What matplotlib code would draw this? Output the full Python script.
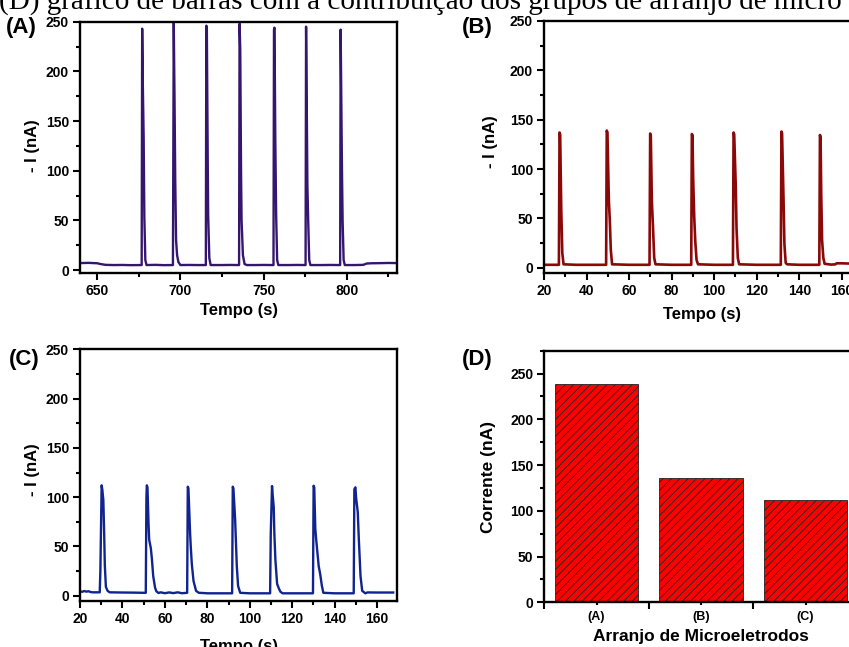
import matplotlib
matplotlib.use("Agg")
import matplotlib.pyplot as plt
from matplotlib.ticker import MultipleLocator

plt.rcParams['font.family'] = ['Liberation Sans', 'DejaVu Sans']
plt.rcParams['font.weight'] = 'bold'
plt.rcParams['hatch.linewidth'] = 0.6

W, H = 849, 647

# ---------------- data ----------------
A_t = [640, 645, 650, 652, 655, 660, 665, 670, 676.7,
       677.0, 677.4, 677.9, 678.3, 678.9, 679.6,
       685, 690, 695.5,
       695.6, 696.0, 696.5, 696.9, 697.4, 698.0, 698.8, 700.0,
       705, 710, 715.3,
       715.6, 715.9, 716.4, 716.7, 717.4, 718.2,
       725, 730, 735.3,
       735.6, 736.0, 736.5, 736.8, 737.6, 738.6, 740,
       745, 750, 756.0,
       756.3, 756.6, 757.1, 757.6, 758.2, 758.9,
       765, 770, 775.3,
       775.6, 776.0, 776.4, 776.9, 777.5, 778.2,
       785, 790, 796.1,
       796.4, 796.8, 797.2, 797.6, 798.2, 798.9,
       805, 810, 812, 815, 820, 825, 830]
A_i = [7.0, 7.2, 6.8, 6.0, 5.2, 5.0, 5.1, 4.9, 5.0,
       243, 186, 133, 54, 10, 5,
       5.2, 4.9, 5.0,
       47, 249, 167, 90, 30, 15, 8, 5,
       5.1, 5.0, 5.0,
       246, 244, 120, 55, 12, 5,
       5.0, 5.1, 5.0,
       248, 222, 95, 50, 15, 6, 5,
       5.0, 5.1, 5.0,
       242, 244, 130, 55, 10, 5,
       5.0, 5.1, 5.0,
       245, 168, 85, 48, 10, 5,
       5.0, 5.1, 5.0,
       242, 170, 100, 48, 10, 5,
       5.0, 5.2, 6.5, 6.8, 6.9, 7.1, 7.0]

B_t = [20, 25, 27.0, 27.3, 27.6, 28.1, 28.6, 29.2,
       35, 40, 45, 49.2, 49.5, 49.8, 50.5, 50.9, 51.4, 52.0,
       60, 69.6, 69.9, 70.2, 70.7, 71.2, 71.8, 72.4,
       80, 89.2, 89.5, 89.8, 90.1, 90.6, 91.1, 91.7, 92.4,
       100, 108.8, 109.1, 109.4, 110.1, 110.5, 111.1, 111.7,
       120, 131.3, 131.6, 131.9, 132.6, 133.0, 133.6, 134.2,
       140, 149.4, 149.7, 150.0, 150.3, 150.7, 151.3, 151.9,
       155, 157, 157.5, 160, 163, 166, 169]
B_i = [3.0, 3.0, 3.0, 137, 135, 60, 15, 3.5,
       3, 3, 3, 3, 139, 137, 67, 50, 18, 3.5,
       3, 3, 136, 134, 67, 43, 10, 3.5,
       3, 3, 135.5, 134, 92, 52, 27, 8, 3.5,
       3, 3, 137, 135, 85, 40, 10, 3.5,
       3, 3, 138, 136, 68, 24, 5, 3.5,
       3, 3, 134.5, 132, 75, 28, 10, 4,
       3.2, 3.5, 4.5, 4.5, 4.3, 4.6, 4.5]

C_t = [20, 21, 22, 23, 24, 25, 26, 29.3,
       29.6, 30.2, 30.5, 31.0, 31.4, 31.7, 32.2, 33, 34,
       40, 45, 50, 51.0,
       51.3, 51.5, 51.8, 52.3, 52.6, 53.4, 53.9, 54.5, 55.4, 56,
       57, 58, 60, 62, 64, 66, 68, 70.5,
       70.8, 71.1, 71.9, 72.2, 72.7, 73.5, 74.7, 76,
       78, 80, 91.7,
       92.0, 92.3, 93.1, 93.4, 93.9, 94.5, 95.5,
       100, 109.6,
       109.9, 110.5, 110.7, 111.3, 111.6, 112.1, 112.9, 113.8, 114.5, 115.5,
       120, 129.8,
       130.1, 130.4, 130.9, 131.4, 132.5, 133.2, 134.0, 134.7,
       140, 149.0,
       149.3, 149.8, 150.1, 150.9, 151.4, 152.2, 153.0, 154.5,
       155.5, 160, 167.6]
C_i = [4.5, 4.0, 4.8, 4.2, 4.6, 3.8, 3.5, 3.5,
       25, 112, 108, 97, 62, 31, 9, 5, 3.5,
       3.3, 3.2, 3.0, 3.0,
       100, 112, 110, 73, 57, 48, 37, 20, 8, 4.5,
       2.8, 3.5, 2.6, 3.4, 2.7, 3.5, 2.6, 3.0,
       110.6, 109, 63, 50, 32, 15, 5, 3,
       2.8, 2.5, 2.5,
       110.6, 109, 78, 60, 30, 10, 3,
       2.5, 2.5,
       63, 111.3, 105, 90, 63, 36, 12, 7, 4, 2.5,
       2.5, 2.5,
       111.6, 110, 68, 55, 30, 22, 10, 3,
       2.5, 2.5,
       108, 110, 100, 85, 58, 20, 5, 2.5,
       3.4, 3.3, 3.3]

D_labels = ['(A)', '(B)', '(C)']
D_values = [239, 136, 112]

# ---------------- helpers ----------------
def ax_px(left, top, right, bottom):
    return fig.add_axes([left / W, 1 - bottom / H, (right - left) / W, (bottom - top) / H])

def ftext(x, y, s, **kw):
    fig.text(x / W, 1 - y / H, s, **kw)

def style(ax):
    for sp in ax.spines.values():
        sp.set_linewidth(1.7)
    ax.tick_params(which='both', direction='out', width=1.5, labelsize=10,
                   top=False, right=False)
    ax.tick_params(which='major', length=5, pad=3)
    ax.tick_params(which='minor', length=3)
    for lab in ax.get_xticklabels() + ax.get_yticklabels():
        lab.set_fontweight('bold')

fig = plt.figure(figsize=(W / 100, H / 100), dpi=100)

# top text (cut caption line from document)
ftext(-1, 9, '(D) gráfico de barras com a contribuição dos grupos de arranjo de micro',
      family=['Liberation Serif', 'DejaVu Serif'], fontweight='normal', fontsize=21,
      va='baseline', ha='left')

# Panel A
axA = ax_px(80, 21.7, 397, 272.7)
axA.plot(A_t, A_i, color='#35166f', lw=1.7)
axA.set_xlim(639.6, 830.3)
axA.set_ylim(-2.7, 250)
axA.xaxis.set_major_locator(MultipleLocator(50))
axA.xaxis.set_minor_locator(MultipleLocator(25))
axA.yaxis.set_major_locator(MultipleLocator(50))
axA.yaxis.set_minor_locator(MultipleLocator(25))
style(axA)
ftext(239, 311, 'Tempo (s)', fontsize=12, fontweight='bold', ha='center', va='center')
ftext(33, 146, '- I (nA)', fontsize=12, fontweight='bold', ha='center', va='center', rotation=90)
ftext(6, 28, '(A)', fontsize=16, fontweight='bold', ha='left', va='center')

# Panel B
axB = ax_px(544, 21, 861, 272.7)
axB.plot(B_t, B_i, color='#8a0808', lw=1.9)
axB.set_xlim(20, 169)
axB.set_ylim(-5, 250)
axB.xaxis.set_major_locator(MultipleLocator(20))
axB.xaxis.set_minor_locator(MultipleLocator(10))
axB.yaxis.set_major_locator(MultipleLocator(50))
axB.yaxis.set_minor_locator(MultipleLocator(25))
style(axB)
ftext(702, 315, 'Tempo (s)', fontsize=12, fontweight='bold', ha='center', va='center')
ftext(491, 142, '- I (nA)', fontsize=12, fontweight='bold', ha='center', va='center', rotation=90)
ftext(462, 28, '(B)', fontsize=16, fontweight='bold', ha='left', va='center')

# Panel C
axC = ax_px(80, 349.3, 397, 600.7)
axC.plot(C_t, C_i, color='#10238f', lw=1.7)
axC.set_xlim(20, 169.4)
axC.set_ylim(-5, 250)
axC.xaxis.set_major_locator(MultipleLocator(20))
axC.xaxis.set_minor_locator(MultipleLocator(10))
axC.yaxis.set_major_locator(MultipleLocator(50))
axC.yaxis.set_minor_locator(MultipleLocator(25))
style(axC)
ftext(239, 646, 'Tempo (s)', fontsize=12, fontweight='bold', ha='center', va='center')
ftext(33, 470, '- I (nA)', fontsize=12, fontweight='bold', ha='center', va='center', rotation=90)
ftext(9, 360, '(C)', fontsize=16, fontweight='bold', ha='left', va='center')

# Panel D
axD = ax_px(544.3, 350.7, 857.8, 602.3)
xpos = list(range(len(D_values)))
axD.bar(xpos, D_values, width=0.8, color='#ff0000', edgecolor='#222222',
        linewidth=0.6, hatch='////')
axD.set_xlim(-0.5, 2.5)
axD.set_ylim(0, 275)
axD.set_xticks([-0.5, 0.5, 1.5, 2.5])
axD.set_xticklabels([])
axD.set_xticks(xpos, minor=True)
axD.set_xticklabels(D_labels, minor=True)
axD.yaxis.set_major_locator(MultipleLocator(50))
axD.yaxis.set_minor_locator(MultipleLocator(25))
style(axD)
axD.tick_params(axis='x', which='minor', length=2.5, labelsize=9, pad=4)
for lab in axD.get_xticklabels(minor=True):
    lab.set_fontweight('bold')
ftext(701, 636, 'Arranjo de Microeletrodos', fontsize=12.5, fontweight='bold', ha='center', va='center')
ftext(488, 477, 'Corrente (nA)', fontsize=12.5, fontweight='bold', ha='center', va='center', rotation=90)
ftext(462, 360, '(D)', fontsize=16, fontweight='bold', ha='left', va='center')

fig.savefig('out.png', dpi=100)
